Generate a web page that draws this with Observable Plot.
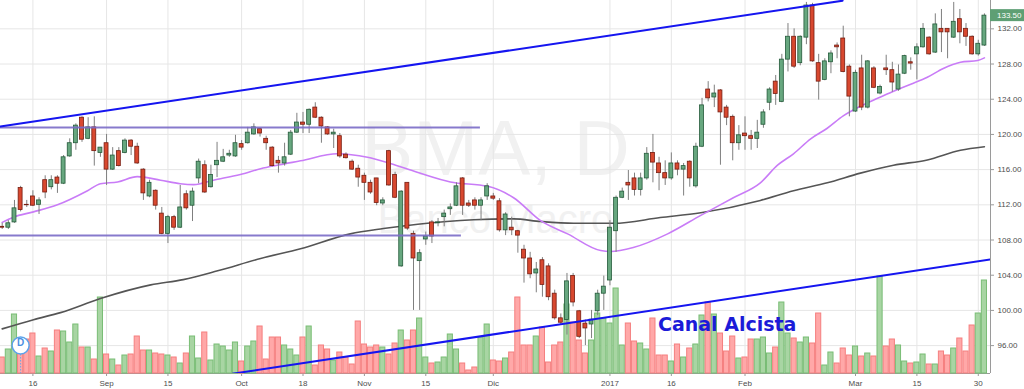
<!DOCTYPE html>
<html><head><meta charset="utf-8">
<script src="https://cdn.jsdelivr.net/npm/d3@7"></script>
<script src="https://cdn.jsdelivr.net/npm/@observablehq/plot@0.6"></script>
<style>
body{margin:0;background:#fff;}
#chart{position:relative;width:1024px;height:389px;overflow:hidden;background:#fff;}
#chart svg{position:absolute;left:0;top:0;}
</style></head><body><div id="chart"></div>
<script>
// Daily OHLC (bar index 0..160, mid-Aug 2016 .. 31 Mar 2017)
const opens=[109.5,109.4,110.0,113.9,112.0,112.95,112.0,114.8,114.0,115.1,
114.4,117.5,119.0,121.9,119.5,120.8,117.9,119.0,116.0,118.1,
117.9,119.3,118.6,116.0,112.95,113.6,111.0,108.7,110.6,109.4,
113.2,111.9,115.0,116.5,114.0,116.5,116.9,117.6,117.5,118.9,
119.0,120.0,120.6,119.5,118.5,117.0,116.7,117.7,120.2,121.35,
121.1,123.05,121.9,120.8,120.0,119.8,117.7,116.9,116.1,115.3,
114.5,115.0,112.15,118.1,115.4,105.0,114.5,108.7,105.6,108.06,
110.0,109.9,110.6,111.5,111.9,115.0,112.15,112.5,111.9,112.95,
112.95,112.4,109.1,109.4,109.0,106.9,105.9,104.2,105.7,105.0,
101.9,99.1,98.9,103.9,99.9,98.5,98.4,99.9,101.9,103.4,
109.0,112.8,114.5,115.0,113.7,115.0,117.9,116.7,115.6,115.0,
116.7,116.0,116.9,114.1,118.6,125.1,124.2,125.0,123.05,122.0,
119.0,120.1,119.8,119.5,121.1,123.6,126.0,123.7,128.5,131.1,
128.1,131.0,134.65,128.1,126.2,128.2,130.1,130.9,127.7,122.6,
127.5,123.05,127.5,124.65,127.5,127.3,125.1,126.9,128.2,129.1,
129.9,131.0,129.3,132.0,132.0,131.0,133.1,132.0,131.1,129.1,
130.1];
const highs=[109.9,110.2,112.5,114.1,112.5,113.6,112.8,115.3,115.3,115.3,
117.6,119.5,121.2,122.0,121.9,122.0,118.5,120.0,118.5,118.5,
119.5,119.4,119.0,116.1,114.8,113.7,111.7,110.8,110.8,114.2,
113.6,113.9,117.2,117.0,116.5,119.1,118.3,118.2,119.9,119.3,
120.8,121.2,120.7,119.8,118.6,117.5,119.0,120.45,122.4,122.5,
122.9,123.6,122.0,120.9,120.6,120.1,117.9,117.1,116.5,115.6,
114.8,115.0,112.8,118.2,115.7,113.6,114.5,109.0,106.9,108.9,
110.2,110.45,111.4,112.1,114.5,115.1,112.5,112.8,112.8,114.4,
113.3,112.7,111.1,110.6,109.1,107.4,106.6,105.45,106.0,105.3,
102.3,99.6,104.2,104.2,100.0,98.9,100.0,102.3,103.9,110.2,
113.0,113.9,115.9,115.6,115.6,118.5,120.0,117.4,117.0,117.9,
117.0,116.7,117.0,119.0,124.1,126.0,125.6,125.1,123.3,122.2,
121.0,122.0,120.45,121.6,122.8,125.3,126.7,129.1,132.6,132.0,
131.2,135.0,134.9,129.1,128.6,129.5,130.4,132.3,127.9,127.3,
129.0,128.4,127.7,125.6,129.0,128.2,127.9,129.0,128.7,130.3,
132.6,131.1,133.7,134.2,132.0,135.0,134.2,132.6,131.2,130.7,
133.7];
const lows=[109.2,109.2,109.9,111.2,111.7,111.8,110.9,112.7,113.7,113.3,
114.3,117.4,118.2,119.1,119.4,116.4,117.4,114.2,115.9,116.3,
117.8,117.6,116.6,112.5,112.8,111.4,108.6,107.6,109.1,109.3,
111.4,110.1,114.4,113.3,113.9,115.1,116.8,117.4,117.4,118.2,
118.9,119.9,119.7,118.2,116.3,115.6,116.4,117.6,120.1,120.1,
120.1,121.8,119.0,119.9,118.4,117.3,117.2,115.9,114.0,112.5,
113.2,111.9,111.9,114.1,112.7,104.9,109.1,100.0,100.0,107.4,
107.6,109.5,109.5,110.8,111.8,110.8,111.7,111.4,110.2,112.5,
112.5,108.9,108.5,108.5,106.5,103.1,103.6,102.0,101.5,101.1,
98.9,98.3,97.2,100.4,96.8,96.0,96.8,99.4,100.0,102.8,
106.6,112.7,112.5,113.0,113.0,114.8,114.5,113.6,114.2,114.8,
115.3,113.0,114.0,113.9,118.5,123.7,123.05,116.5,121.0,117.0,
118.2,118.2,118.2,118.4,120.7,122.7,123.3,123.6,127.1,127.5,
127.8,130.2,128.2,123.9,126.1,126.9,128.6,127.0,122.0,122.5,
122.7,122.9,125.2,124.5,126.7,124.8,124.9,126.8,127.3,126.2,
129.8,129.0,129.2,129.3,128.6,130.9,130.3,130.0,129.0,128.9,
130.0];
const closes=[109.4,109.9,111.6,111.4,111.95,111.9,112.5,113.4,114.8,114.4,
117.4,119.0,121.0,119.4,120.8,118.1,118.5,116.0,117.6,116.4,
119.3,118.6,116.7,113.3,114.5,111.9,108.7,110.6,109.4,111.7,
111.6,113.5,116.9,113.4,115.4,117.0,117.4,117.8,119.0,118.5,
120.2,120.8,120.1,119.0,116.4,116.7,117.4,120.2,121.35,121.1,
122.8,121.9,120.9,120.0,120.2,117.5,117.3,116.0,115.1,114.5,
113.4,112.2,112.5,114.2,112.8,113.5,109.3,105.9,106.5,108.4,
108.4,110.0,111.0,111.7,114.1,111.9,111.9,111.9,112.5,114.1,
112.7,109.1,110.9,109.1,108.5,105.9,104.1,104.65,102.9,101.5,
99.1,98.6,103.3,100.9,97.0,97.95,98.95,101.9,102.7,109.4,
112.8,113.5,114.2,113.7,115.0,117.8,116.8,115.6,115.0,116.7,
116.0,116.4,115.0,118.6,123.3,124.1,124.65,122.5,121.9,119.0,
119.9,119.8,119.5,120.2,122.5,125.1,124.6,128.5,131.1,127.7,
131.1,134.65,128.3,126.0,128.3,129.2,129.9,127.1,124.3,127.0,
123.05,128.3,125.3,125.4,127.3,125.9,126.8,128.9,128.05,129.9,
132.0,129.1,132.5,131.6,131.6,132.8,131.6,131.1,129.1,130.3,
133.5];
// Volume (thousand shares)
const volumes=[160,240,590,280,340,400,170,250,220,430,
420,310,490,260,260,140,760,190,140,80,
180,190,370,230,230,200,190,180,160,100,
200,370,150,410,130,290,270,230,310,120,
270,320,470,140,360,360,280,240,180,360,
470,80,280,240,130,210,160,90,520,290,
260,280,260,190,300,430,330,430,550,160,
100,110,160,390,240,100,30,60,360,490,
130,120,150,210,760,280,280,370,460,110,
280,310,690,510,330,200,330,600,550,500,
850,280,500,320,300,240,550,180,180,120,
290,160,250,290,580,710,590,400,220,370,
150,160,340,340,360,200,260,710,400,350,
310,360,300,600,80,210,100,250,180,270,
170,200,170,970,270,340,280,120,100,110,
190,90,90,220,180,250,350,220,480,600,
930];
// Date axis
const tickIndex=[5,17,27,39,49,59,69,80,99,109,121,139,149,159];
const tickLabels=["16","Sep","15","Oct","18","Nov","15","Dic","2017","16","Feb","Mar","15","30"];
const priceTicks=[96,100,104,108,112,116,120,124,128,132];
// Moving averages
const ma20Idx=[0,1.8,5.1,9,13.9,16,18.8,22,25.8,29,31.2,34.4,38.8,42.1,44.8,48.6,54.6,59.5,63.2,67.6,73,79.1,83.3,87.7,92.1,97.5,99.1,102.8,108.4,113.8,119.1,123.5,126.3,128.9,131.7,134.4,137,139.8,142.6,145.2,148,150.7,153.3,156.1,158.9,160];
const ma20Val=[110.0,110.6,111.2,112.0,113.6,114.4,114.6,115.2,114.8,114.4,114.3,114.8,115.45,116.1,116.5,117.0,117.8,117.4,116.7,115.7,114.6,114.1,112.8,110.2,108.7,106.8,106.7,107.15,108.7,110.8,112.8,114.5,116.5,117.8,119.5,120.7,122.1,123.2,124.1,124.9,125.7,126.5,127.5,128.2,128.4,128.7];
const ma200Idx=[0,5.1,9.5,16,24.2,29.5,35.1,42.1,48.6,56.7,62.1,67.7,76.8,83.3,87.7,93.1,99.6,107.2,113.8,123.5,128.9,134.4,139.8,145.2,150.7,156.1,160];
const ma200Val=[97.9,98.95,99.75,101.35,102.9,103.5,104.5,105.9,107.0,108.7,109.3,109.8,110.3,110.4,110.1,109.9,109.9,110.55,111.1,112.5,113.6,114.5,115.6,116.5,117.1,118.2,118.6];
// Drawings
const hLevels=[120.8,108.5];
const hEnds=[77.9,74.8];
const upperIdx=[-0.3,136.9], upperPrice=[120.9,135.2];
const lowerIdx=[37.5,161], lowerPrice=[92.8,105.8];

const xDomain=[-0.277,160.99];
const yDomain=[92.83,135.22];
const bars=opens.map((o,i)=>({i,open:o,high:highs[i],low:lows[i],close:closes[i],vol:volumes[i],up:closes[i]>=o}));
const labelMap=new Map(tickIndex.map((t,k)=>[t,tickLabels[k]]));
const font="'Liberation Sans', Arial, sans-serif";
const common={width:1024,height:389,marginLeft:0,marginRight:34,marginTop:0,marginBottom:16,
  style:{fontFamily:font,fontSize:"8px",color:"#4d4d4d",background:"transparent",overflow:"visible"}};

const base=Plot.plot({...common,
  x:{domain:xDomain}, y:{domain:yDomain},
  marks:[
    Plot.text(["BMA, D"],{text:d=>d,frameAnchor:"middle",dy:-37,fontSize:78,fill:"#f1f1f1",fontFamily:font}),
    Plot.text(["Banco Macro"],{text:d=>d,frameAnchor:"middle",dy:33,fontSize:40,fill:"#f1f1f1",fontFamily:font}),
    Plot.gridX(tickIndex,{stroke:"#e6e6e6",strokeOpacity:1}),
    Plot.gridY(priceTicks,{stroke:"#e6e6e6",strokeOpacity:1}),
    Plot.axisX(tickIndex,{tickSize:3,tickPadding:4,tickFormat:d=>labelMap.get(d),label:null,stroke:"#9a9a9a"}),
    Plot.axisY(priceTicks,{anchor:"right",tickSize:3,tickPadding:4,tickFormat:d=>d.toFixed(2),label:null,stroke:"#9a9a9a"}),
    Plot.ruleY([yDomain[0]],{stroke:"#9a9a9a"}),
    Plot.ruleX([xDomain[1]],{stroke:"#9a9a9a"})
  ]});

const vol=Plot.plot({...common,
  x:{domain:xDomain,axis:null}, y:{domain:[0,3730],axis:null}, color:{type:"identity"},
  marks:[
    Plot.rect(bars,{x1:d=>d.i-0.5,x2:d=>d.i+0.5,y1:0,y2:"vol",insetLeft:0.5,insetRight:0.5,
      fill:d=>d.up?"#a8d5a3":"#ffa8a8",stroke:d=>d.up?"#79bd75":"#f57f7f",strokeWidth:1})
  ]});

const ma20=ma20Idx.map((x,k)=>({x,y:ma20Val[k]}));
const ma200=ma200Idx.map((x,k)=>({x,y:ma200Val[k]}));
const upper=upperIdx.map((x,k)=>({x,y:upperPrice[k]}));
const lower=lowerIdx.map((x,k)=>({x,y:lowerPrice[k]}));

const price=Plot.plot({...common,
  x:{domain:xDomain,axis:null}, y:{domain:yDomain,axis:null}, color:{type:"identity"},
  marks:[
    Plot.line(ma200,{x:"x",y:"y",curve:"monotone-x",stroke:"#555555",strokeWidth:1.6}),
    Plot.line(ma20,{x:"x",y:"y",curve:"monotone-x",stroke:"#c97cf7",strokeWidth:1.6}),
    Plot.ruleX(bars,{x:"i",y1:"low",y2:"high",stroke:"#7f7f7f",strokeWidth:1}),
    Plot.rect(bars,{x1:d=>d.i-0.5,x2:d=>d.i+0.5,y1:"open",y2:"close",insetLeft:1.1,insetRight:1.1,
      fill:d=>d.up?"#67a77f":"#d8482f",stroke:d=>d.up?"#245a3a":"#761c10",strokeWidth:0.8}),
    Plot.ruleY(hLevels,{y:d=>d,x1:xDomain[0],x2:(d,k)=>hEnds[k],stroke:"#7a6cc6",strokeWidth:2,strokeOpacity:0.9}),
    Plot.line(upper,{x:"x",y:"y",stroke:"#1515f0",strokeWidth:2,clip:true}),
    Plot.line(lower,{x:"x",y:"y",stroke:"#1515f0",strokeWidth:2,clip:true}),
    Plot.text(["Canal Alcista"],{text:d=>d,x:118.1,y:98.3,fontSize:19,fontWeight:"bold",fill:"#1b1bd8",fontFamily:"'DejaVu Sans', sans-serif"}),
    Plot.ruleX([3],{x:d=>d,insetTop:354,stroke:"#6aa6e6",strokeDasharray:"1.5,1.5",strokeWidth:1}),
    Plot.dot([3],{x:d=>d,frameAnchor:"bottom",dy:-28,r:8.5,fill:"white",stroke:"#5da2ea",strokeWidth:1.5}),
    Plot.text(["D"],{text:d=>d,x:3,frameAnchor:"bottom",dy:-28,fill:"#4a90e2",fontWeight:"bold",fontSize:10})
  ]});

// last price label on the right axis
const ns="http://www.w3.org/2000/svg";
const lastClose=closes[closes.length-1];
const yLast=price.scale("y").apply(lastClose);
const g=document.createElementNS(ns,"g");
const r=document.createElementNS(ns,"rect");
r.setAttribute("x",990);r.setAttribute("y",yLast-6);r.setAttribute("width",34);r.setAttribute("height",12);r.setAttribute("fill","#5e9f74");
const t=document.createElementNS(ns,"text");
t.setAttribute("x",997);t.setAttribute("y",yLast);t.setAttribute("dy","0.35em");t.setAttribute("fill","#ffffff");
t.setAttribute("text-anchor","start");
t.setAttribute("font-size","8px");t.setAttribute("font-family",font);
t.textContent=lastClose.toFixed(2);
g.appendChild(r);g.appendChild(t);price.appendChild(g);

const chart=document.getElementById("chart");
chart.appendChild(base);chart.appendChild(vol);chart.appendChild(price);
</script></body></html>
